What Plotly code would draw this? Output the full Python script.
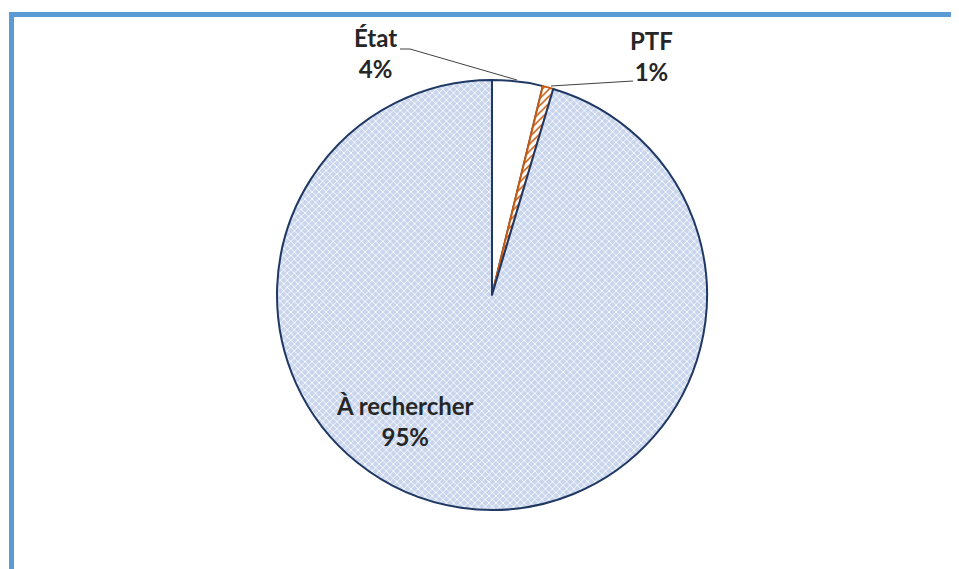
import plotly.graph_objects as go

labels = ["État", "PTF", "À rechercher"]
values = [3.8, 0.8, 95.4]
fill_colors = ["#ffffff", "#ffffff", "#c8d5ec"]
line_colors = ["#1f3864", "#c55a11", "#1f3864"]
pattern_shapes = ["", "/", "x"]
pattern_fg = ["#ffffff", "#c55a11", "#ffffff"]

OFF = 8  # page body margin
W, H = 959 - OFF, 569 - OFF
cx, cy, r = 492 - OFF, 295 - OFF, 215


def px(x, y):
    """page pixel -> paper coords"""
    return (x - OFF) / W, 1 - (y - OFF) / H


fig = go.Figure(go.Pie(
    labels=labels, values=values, sort=False, direction="clockwise", rotation=0,
    textinfo="none", hoverinfo="label+percent", showlegend=False,
    marker=dict(colors=fill_colors,
                line=dict(color=line_colors, width=2),
                pattern=dict(shape=pattern_shapes, fgcolor=pattern_fg,
                             bgcolor=fill_colors, size=5, solidity=0.3)),
    domain=dict(x=[(cx - r) / W, (cx + r) / W], y=[1 - (cy + r) / H, 1 - (cy - r) / H]),
))

total = sum(values)
pct = [round(v / total * 100) for v in values]
label_pos = [(375, 53), (651, 56), (405, 421)]
font = dict(family="Lato, Open Sans, sans-serif", size=24, color="#262626")
for lab, p, (x, y) in zip(labels, pct, label_pos):
    ax_, ay_ = px(x, y)
    fig.add_annotation(x=ax_, y=ay_, xref="paper", yref="paper",
                       text=f"<b>{lab}</b><br><b>{p}%</b>", showarrow=False,
                       font=font, align="center", xanchor="center", yanchor="middle")

shapes = []
# leader lines
p1, p2, p3 = px(400, 49), px(410, 49), px(517, 80)
shapes.append(dict(type="path", xref="paper", yref="paper",
                   path=f"M {p1[0]} {p1[1]} L {p2[0]} {p2[1]} L {p3[0]} {p3[1]}",
                   line=dict(color="#404040", width=1)))
q1, q2 = px(633, 81), px(551, 86)
shapes.append(dict(type="line", xref="paper", yref="paper",
                   x0=q1[0], y0=q1[1], x1=q2[0], y1=q2[1],
                   line=dict(color="#404040", width=1)))
# blue frame
a, b = px(9, 12), px(14, 569)
shapes.append(dict(type="rect", xref="paper", yref="paper", x0=a[0], y0=b[1], x1=b[0], y1=a[1],
                   fillcolor="#5b9bd5", line=dict(width=0), layer="above"))
a, b = px(9, 12), px(959, 17)
shapes.append(dict(type="rect", xref="paper", yref="paper", x0=a[0], y0=b[1], x1=b[0], y1=a[1],
                   fillcolor="#5b9bd5", line=dict(width=0), layer="above"))

fig.update_layout(width=W, height=H, margin=dict(l=0, r=0, t=0, b=0),
                  paper_bgcolor="white", plot_bgcolor="white", shapes=shapes)

fig.write_html("out.html")
